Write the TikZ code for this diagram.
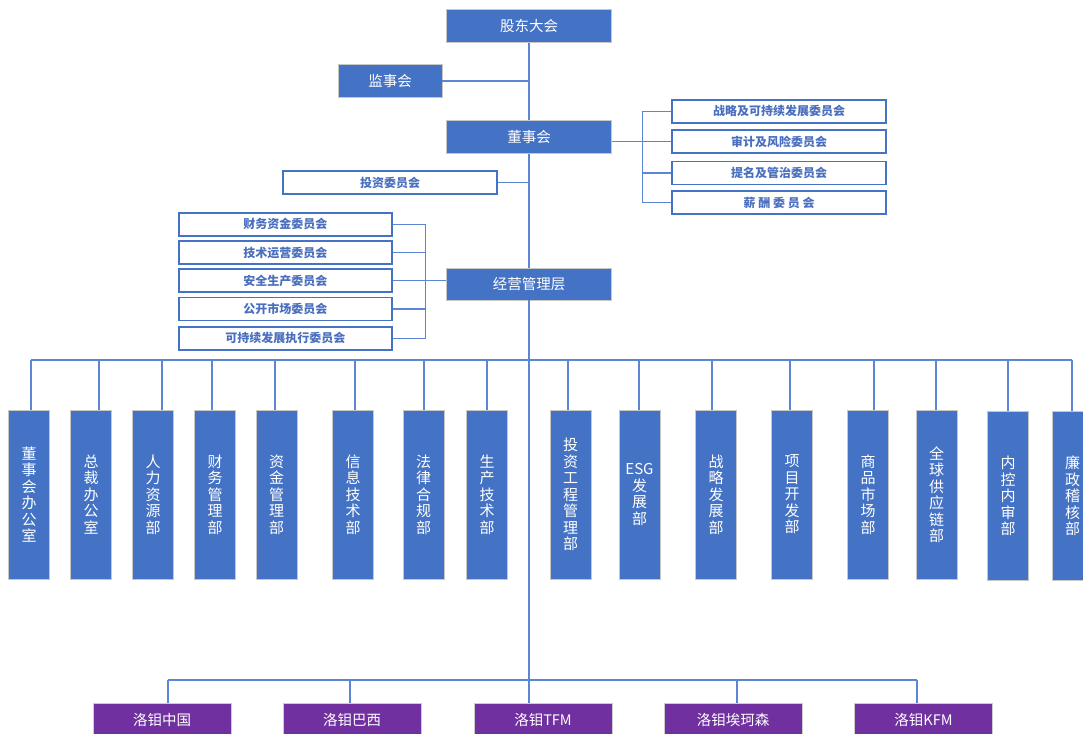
\documentclass[tikz,border=0pt]{standalone}
\usepackage{fontspec}
\setmainfont{Noto Sans CJK SC}
\definecolor{mblue}{HTML}{4472C4}
\definecolor{lineblue}{HTML}{5B85D5}
\definecolor{ctext}{HTML}{4A6FBE}
\definecolor{mpurple}{HTML}{7030A0}
\begin{document}
\begin{tikzpicture}[x=1pt,y=-1pt,
  line/.style={draw=lineblue, line width=1.3pt},
  topbox/.style={draw=black!22, line width=0.8pt, fill=mblue, text=white, font=\fontsize{14.5}{17}\selectfont, inner sep=0pt},
  cbox/.style={draw=mblue, line width=1.8pt, fill=white, text=ctext, font=\bfseries\fontsize{12}{14}\selectfont, inner sep=0pt, minimum height=23},
  dbox/.style={draw=black!22, line width=0.8pt, fill=mblue, text=white, font=\fontsize{15}{16.5}\selectfont, align=center, inner sep=0pt, minimum width=41, minimum height=169},
  sbox/.style={draw=black!20, line width=0.8pt, fill=mpurple, text=white, font=\fontsize{14.5}{17}\selectfont, inner sep=0pt, minimum width=138, minimum height=34}]
\useasboundingbox (0,0) rectangle (1083,733);
\clip (0,0) rectangle (1083,733);

% top level
\node[topbox, minimum width=165, minimum height=33] (gd) at (529,25.8) {股东大会};
\node[topbox, minimum width=104, minimum height=33] (js) at (390,81) {监事会};
\node[topbox, minimum width=165, minimum height=33] (ds) at (529,136.7) {董事会};
\node[topbox, minimum width=165, minimum height=32] (jy) at (529,284) {经营管理层};

% board committees (right)
\node[cbox, minimum width=214] (c1) at (779,111.3) {战略及可持续发展委员会};
\node[cbox, minimum width=214] (c2) at (779,141.7) {审计及风险委员会};
\node[cbox, minimum width=214] (c3) at (779,173) {提名及管治委员会};
\node[cbox, minimum width=214] (c4) at (779,202.5) {薪 酬 委 员 会};

% investment committee
\node[cbox, minimum width=214] (tz) at (390,182.5) {投资委员会};

% management committees (left)
\node[cbox, minimum width=213] (l1) at (285.3,224.3) {财务资金委员会};
\node[cbox, minimum width=213] (l2) at (285.3,252.5) {技术运营委员会};
\node[cbox, minimum width=213] (l3) at (285.3,280.7) {安全生产委员会};
\node[cbox, minimum width=213] (l4) at (285.3,309) {公开市场委员会};
\node[cbox, minimum width=213] (l5) at (285.3,338.3) {可持续发展执行委员会};

% departments
\node[dbox] (d1) at (29,494.5) {董\\事\\会\\办\\公\\室};
\node[dbox] (d2) at (91,494.5) {总\\裁\\办\\公\\室};
\node[dbox] (d3) at (153,494.5) {人\\力\\资\\源\\部};
\node[dbox] (d4) at (215,494.5) {财\\务\\管\\理\\部};
\node[dbox] (d5) at (276.5,494.5) {资\\金\\管\\理\\部};
\node[dbox] (d6) at (353,494.5) {信\\息\\技\\术\\部};
\node[dbox] (d7) at (423.5,494.5) {法\\律\\合\\规\\部};
\node[dbox] (d8) at (487,494.5) {生\\产\\技\\术\\部};
\node[dbox] (d9) at (570.5,494.5) {投\\资\\工\\程\\管\\理\\部};
\node[dbox] (d10) at (639.5,494.5) {ESG\\发\\展\\部};
\node[dbox] (d11) at (716,494.5) {战\\略\\发\\展\\部};
\node[dbox] (d12) at (792,494.5) {项\\目\\开\\发\\部};
\node[dbox] (d13) at (868,494.5) {商\\品\\市\\场\\部};
\node[dbox] (d14) at (936.5,494.5) {全\\球\\供\\应\\链\\部};
\node[dbox] (d15) at (1008,496) {内\\控\\内\\审\\部};
\node[dbox] (d16) at (1072.5,496) {廉\\政\\稽\\核\\部};

% subsidiaries
\node[sbox] (s1) at (162,720) {洛钼中国};
\node[sbox] (s2) at (352,720) {洛钼巴西};
\node[sbox] (s3) at (543,720) {洛钼TFM};
\node[sbox] (s4) at (733,720) {洛钼埃珂森};
\node[sbox] (s5) at (923.5,720) {洛钼KFM};

% main spine
\draw[line] (gd.south) -- (ds.north);
\draw[line] (ds.south) -- (jy.north);
\draw[line] (jy.south) -- (jy.south |- s3.north);
\draw[line] (js.east) -- (js.east -| gd.south);
\draw[line] (tz.east) -- (tz.east -| gd.south);

% right committee bracket
\draw[line] (ds.east |- c2.west) -- (c2.west);
\draw[line] (c1.west) -- ++(-28.5,0) coordinate (rb) |- (c4.west);
\draw[line] (c3.west) -- (c3.west -| rb);

% left committee bracket
\draw[line] (l1.east) -- ++(32.5,0) coordinate (lb) |- (l5.east);
\draw[line] (l2.east) -- (l2.east -| lb);
\draw[line] (l4.east) -- (l4.east -| lb);
\draw[line] (l3.east) -- (jy.west |- l3.east);

% department bus
\coordinate (bL) at (31,360);
\coordinate (bR) at (1072,360);
\draw[line] (bL) -- (bR);
\foreach \i/\x in {1/31,2/99,3/162,4/212,5/275,6/355,7/424,8/487,9/568,10/639,11/712,12/790,13/874,14/936,15/1008,16/1072}{
  \coordinate (t\i) at (\x,360);
  \draw[line] (t\i) -- (t\i |- d\i.north);
}

% subsidiary bus
\coordinate (uL) at (168,680);
\coordinate (uR) at (917,680);
\draw[line] (uL) -- (uR);
\foreach \i/\x in {1/168,2/350,4/737,5/917}{
  \coordinate (u\i) at (\x,680);
  \draw[line] (u\i) -- (u\i |- s\i.north);
}
\end{tikzpicture}
\end{document}
